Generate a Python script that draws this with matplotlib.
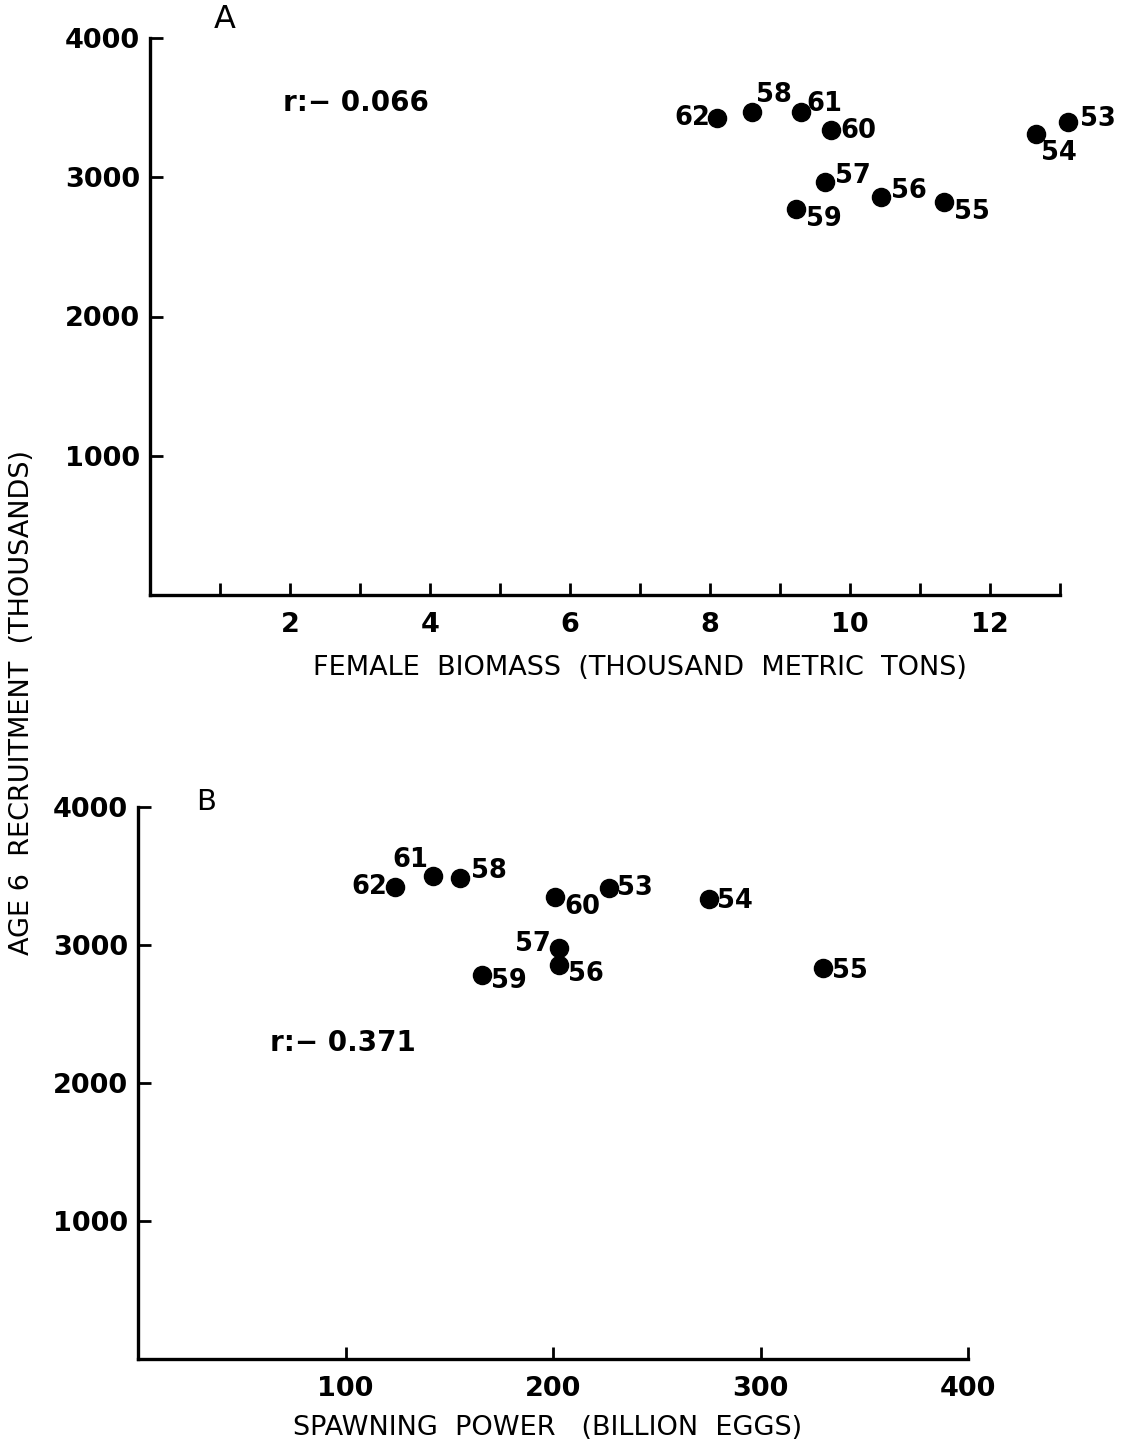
import matplotlib
matplotlib.use("Agg")
import matplotlib.pyplot as plt

W, H = 1123, 1455

# ---- data ----
years = ["53", "54", "55", "56", "57", "58", "59", "60", "61", "62"]
biomass = [13.12, 12.65, 11.34, 10.44, 9.64, 8.60, 9.23, 9.73, 9.30, 8.10]
recruit_a = [3395, 3310, 2820, 2857, 2968, 3470, 2770, 3340, 3470, 3425]
spawning = [227, 275, 330, 203, 203, 155, 166, 201, 142, 124]
recruit_b = [3415, 3330, 2832, 2853, 2980, 3485, 2782, 3350, 3500, 3420]

# label offsets (points) per year for each panel
off_a = {"53": (8, -7, "left", "bottom"), "54": (4, -4, "left", "top"),
         "55": (7, -7, "left", "center"), "56": (7, -5, "left", "bottom"),
         "57": (7, -5, "left", "bottom"), "58": (3, 3, "left", "bottom"),
         "59": (7, 2, "left", "top"), "60": (7, -1, "left", "center"),
         "61": (4, -4, "left", "bottom"), "62": (-5, 0, "right", "center")}
off_b = {"53": (6, 0, "left", "center"), "54": (6, -1, "left", "center"),
         "55": (7, -2, "left", "center"), "56": (6, -6, "left", "center"),
         "57": (-6, 3, "right", "center"), "58": (8, 5, "left", "center"),
         "59": (6, -4, "left", "center"), "60": (7, 2, "left", "top"),
         "61": (-3, 2, "right", "bottom"), "62": (-6, 0, "right", "center")}

def fx(px):
    return px / W

def fy(py):
    return 1 - py / H

fig = plt.figure(figsize=(W / 100, H / 100), dpi=100)

tick_font = dict(family="DejaVu Sans", weight="bold", size=19.5)
pt_font = dict(family="DejaVu Sans", weight="bold", size=18.5)
r_font = dict(family="DejaVu Sans", weight="bold", size=20)
lab_font = dict(family="DejaVu Sans", size=19.5)

def style_axes(ax, xticks, xticklabels, xmax):
    for s in ["top", "right"]:
        ax.spines[s].set_visible(False)
    for s in ["left", "bottom"]:
        ax.spines[s].set_linewidth(2.4)
    ax.set_ylim(0, 4000)
    ax.set_xlim(0, xmax)
    ax.set_yticks([1000, 2000, 3000, 4000])
    ax.set_yticklabels(["1000", "2000", "3000", "4000"], fontdict=tick_font)
    ax.set_xticks(xticks)
    ax.set_xticklabels(xticklabels, fontdict=tick_font)
    ax.tick_params(axis="both", direction="in", length=9, width=2)
    ax.tick_params(axis="y", pad=7)
    ax.tick_params(axis="x", pad=12)

# Panel A
axA = fig.add_axes([fx(150), fy(595), fx(1060) - fx(150), fy(38) - fy(595)])
axA.scatter(biomass, recruit_a, s=170, color="black", zorder=3, clip_on=False)
for yr, x, y in zip(years, biomass, recruit_a):
    dx, dy, ha, va = off_a[yr]
    axA.annotate(yr, (x, y), xytext=(dx, dy), textcoords="offset points",
                 ha=ha, va=va, annotation_clip=False, **pt_font)
xt = list(range(1, 14))
style_axes(axA, xt, [str(v) if v % 2 == 0 and v < 13 else "" for v in xt], 13)

# Panel B
axB = fig.add_axes([fx(138), fy(1359), fx(968) - fx(138), fy(807) - fy(1359)])
axB.scatter(spawning, recruit_b, s=170, color="black", zorder=3, clip_on=False)
for yr, x, y in zip(years, spawning, recruit_b):
    dx, dy, ha, va = off_b[yr]
    axB.annotate(yr, (x, y), xytext=(dx, dy), textcoords="offset points",
                 ha=ha, va=va, annotation_clip=False, **pt_font)
style_axes(axB, [100, 200, 300, 400], ["100", "200", "300", "400"], 400)

# correlation notes
fig.text(fx(283), fy(103), "r:\u2212 0.066", ha="left", va="center", **r_font)
fig.text(fx(270), fy(1043), "r:\u2212 0.371", ha="left", va="center", **r_font)

# panel letters
fig.text(fx(214), fy(20), "A", fontsize=23, family="DejaVu Sans", va="center")
fig.text(fx(196), fy(802), "B", fontsize=21, family="DejaVu Sans", va="center")

# axis labels
fig.text(fx(640), fy(668), "FEMALE  BIOMASS  (THOUSAND  METRIC  TONS)",
         ha="center", va="center", **lab_font)
fig.text(fx(548), fy(1428), "SPAWNING  POWER   (BILLION  EGGS)",
         ha="center", va="center", **lab_font)
fig.text(fx(22), fy(702), "AGE 6  RECRUITMENT  (THOUSANDS)", rotation=90,
         ha="center", va="center", **lab_font)

fig.savefig("out.png", dpi=100)
